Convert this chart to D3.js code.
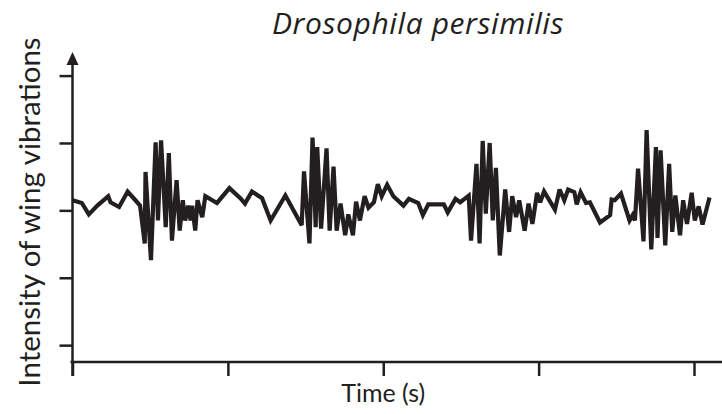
<!DOCTYPE html>
<html>
<head>
<meta charset="utf-8">
<script src="https://cdn.jsdelivr.net/npm/d3@7"></script>
<style>
  html, body { margin: 0; padding: 0; background: #fff; }
  svg { display: block; }
  text { font-family: Lato, "Open Sans", sans-serif; fill: #231f20; }
</style>
</head>
<body>
<div id="chart"></div>
<script>
// time (arbitrary units, one per x tick) and wing vibration intensity
const time = [
  0.00, 0.06, 0.105, 0.16, 0.23, 0.245, 0.30, 0.355, 0.405, 0.435,
  0.465, 0.47, 0.505, 0.535, 0.55, 0.57, 0.60, 0.62, 0.64, 0.67,
  0.69, 0.71, 0.725, 0.745, 0.76, 0.77, 0.79, 0.805, 0.835, 0.855,
  0.93, 1.01, 1.08, 1.11, 1.155, 1.22, 1.275, 1.37, 1.475, 1.49,
  1.525, 1.545, 1.565, 1.575, 1.60, 1.635, 1.655, 1.68, 1.70, 1.725,
  1.755, 1.775, 1.805, 1.825, 1.85, 1.88, 1.905, 1.94, 1.965, 1.99,
  2.025, 2.065, 2.13, 2.165, 2.225, 2.255, 2.29, 2.39, 2.415, 2.465,
  2.495, 2.55, 2.565, 2.60, 2.62, 2.64, 2.66, 2.685, 2.705, 2.725,
  2.75, 2.785, 2.81, 2.83, 2.855, 2.875, 2.91, 2.935, 2.96, 2.99,
  3.01, 3.035, 3.105, 3.135, 3.165, 3.19, 3.23, 3.245, 3.27, 3.305,
  3.33, 3.395, 3.46, 3.47, 3.49, 3.53, 3.585, 3.605, 3.62, 3.64,
  3.675, 3.695, 3.725, 3.755, 3.765, 3.785, 3.815, 3.84, 3.86, 3.88,
  3.91, 3.93, 3.955, 3.985, 4.005, 4.03, 4.055, 4.10
];
const intensity = [
  0.15, 0.11, -0.06, 0.07, 0.21, 0.12, 0.05, 0.28, 0.15, 0.07,
  -0.49, 0.57, -0.74, 1.01, -0.15, 1.04, -0.25, 0.85, -0.45, 0.45,
  -0.30, 0.15, -0.15, 0.07, -0.15, 0.07, -0.30, 0.15, -0.10, 0.21,
  0.11, 0.33, 0.18, 0.10, 0.28, 0.18, -0.15, 0.22, -0.22, 0.58,
  -0.49, 1.08, -0.25, 0.94, -0.27, 0.92, -0.30, 0.65, -0.30, 0.10,
  -0.37, -0.06, -0.37, 0.13, -0.15, 0.21, 0.04, 0.12, 0.39, 0.21,
  0.38, 0.21, 0.07, 0.17, 0.11, -0.07, 0.09, 0.09, -0.03, 0.17,
  0.12, 0.22, -0.45, 0.69, -0.49, 1.03, -0.05, 1.00, -0.15, 0.63,
  -0.67, 0.31, -0.32, 0.21, -0.10, 0.15, -0.30, 0.10, -0.20, 0.26,
  0.12, 0.28, 0.01, 0.31, 0.15, 0.31, 0.27, 0.09, 0.27, 0.11,
  0.12, -0.18, -0.07, 0.16, 0.15, 0.25, -0.15, -0.07, -0.15, 0.62,
  -0.46, 1.19, -0.58, 0.94, -0.41, 0.89, -0.52, 0.69, -0.32, 0.22,
  -0.37, 0.15, -0.20, 0.26, -0.15, 0.06, -0.21, 0.19
];
const xTicks = [0, 1, 2, 3, 4];
const yTicks = [-2, -1, 0, 1, 2];

const title = "Drosophila persimilis";
const xLabel = "Time (s)";
const yLabel = "Intensity of wing vibrations";

const width = 722, height = 414;
const ink = "#231f20";

const data = time.map((t, i) => ({ t: t, v: intensity[i] }));

const svg = d3.select("#chart").append("svg")
  .attr("width", width)
  .attr("height", height);

const x = d3.scaleLinear().domain([0, 4]).range([72.5, 694]);
const y = d3.scaleLinear().domain([-2.25, 2.35]).range([362, 52]);

// x axis, runs off to the right edge
const xAxis = d3.axisBottom(x)
  .tickValues(xTicks)
  .tickSize(14)
  .tickFormat("");
const gx = svg.append("g")
  .attr("transform", `translate(0,${y(-2.25)})`)
  .call(xAxis);
gx.select(".domain").remove();
gx.append("line")
  .attr("x1", x(0) - 2).attr("x2", width)
  .attr("stroke", ink).attr("stroke-width", 2.5);
gx.selectAll(".tick line").attr("stroke", ink).attr("stroke-width", 2.5);

// y axis with arrow head
const yAxis = d3.axisLeft(y)
  .tickValues(yTicks)
  .tickSize(13)
  .tickFormat("");
const gy = svg.append("g")
  .attr("transform", `translate(${x(0)},0)`)
  .call(yAxis);
gy.select(".domain").remove();
gy.append("line")
  .attr("y1", y(-2.25) + 14).attr("y2", y(2.35) + 8)
  .attr("stroke", ink).attr("stroke-width", 2.5);
gy.selectAll(".tick line").attr("stroke", ink).attr("stroke-width", 2.5);
gy.append("path")
  .attr("d", `M0,${y(2.35)} L-6,${y(2.35) + 13} L6,${y(2.35) + 13} Z`)
  .attr("fill", ink);

// the trace
const line = d3.line()
  .x(d => x(d.t))
  .y(d => y(d.v));

svg.append("path")
  .datum(data)
  .attr("d", line)
  .attr("fill", "none")
  .attr("stroke", ink)
  .attr("stroke-width", 4.2)
  .attr("stroke-linejoin", "miter")
  .attr("stroke-miterlimit", 3);

// labels
svg.append("text")
  .attr("x", 418).attr("y", 34)
  .attr("text-anchor", "middle")
  .style("font-family", "'Open Sans', Lato, sans-serif")
  .style("font-style", "italic")
  .style("font-size", "30px")
  .style("letter-spacing", "0.6px")
  .text(title);

svg.append("text")
  .attr("x", x(2)).attr("y", 402)
  .attr("text-anchor", "middle")
  .style("font-size", "25px")
  .text(xLabel);

svg.append("text")
  .attr("transform", `translate(40,${212}) rotate(-90)`)
  .attr("text-anchor", "middle")
  .style("font-size", "29.5px")
  .text(yLabel);
</script>
</body>
</html>
